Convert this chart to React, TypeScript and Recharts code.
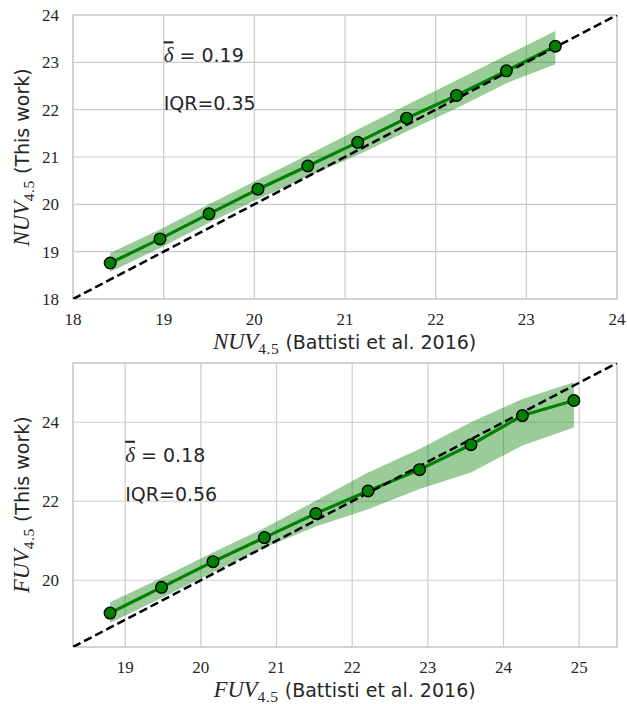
import React from 'react';
import { ComposedChart, XAxis, YAxis, CartesianGrid, Line, Area, Scatter, ReferenceArea } from 'recharts';

// ---- NUV panel (top) ----
const nuvBattisti = [18.41, 18.96, 19.5, 20.04, 20.59, 21.14, 21.68, 22.23, 22.78, 23.32];
const nuvThisWork = [18.76, 19.27, 19.8, 20.32, 20.81, 21.31, 21.82, 22.3, 22.82, 23.34];
const nuvLower = [18.57, 19.08, 19.61, 20.11, 20.59, 21.04, 21.54, 22.03, 22.56, 22.96];
const nuvUpper = [18.97, 19.47, 20.0, 20.52, 21.04, 21.58, 22.1, 22.62, 23.15, 23.66];
const nuvLimits = [18, 24];
const nuvXTicks = [18, 19, 20, 21, 22, 23, 24];
const nuvYTicks = [18, 19, 20, 21, 22, 23, 24];
const nuvDelta = '0.19';
const nuvIqr = 'IQR=0.35';

// ---- FUV panel (bottom) ----
const fuvBattisti = [18.8, 19.48, 20.16, 20.84, 21.52, 22.21, 22.89, 23.57, 24.25, 24.93];
const fuvThisWork = [19.17, 19.82, 20.47, 21.08, 21.69, 22.26, 22.8, 23.43, 24.17, 24.55];
const fuvLower = [18.92, 19.55, 20.2, 20.82, 21.36, 21.8, 22.31, 22.73, 23.41, 23.87];
const fuvUpper = [19.44, 20.06, 20.7, 21.32, 22.01, 22.73, 23.32, 24.0, 24.59, 25.01];
const fuvLimits = [18.31, 25.5];
const fuvXTicks = [19, 20, 21, 22, 23, 24, 25];
const fuvYTicks = [20, 22, 24];
const fuvDelta = '0.18';
const fuvIqr = 'IQR=0.56';

// annotation anchors (data coords)
const noteX = 19;
const noteDeltaY = 23;
const noteIqrY = 22;

const SERIF = '"Liberation Serif", "DejaVu Serif", serif';
const SANS = '"DejaVu Sans", "Liberation Sans", sans-serif';
const INK = '#262626';
const GREEN = '#008000';
const GRID = '#cccccc';

const Marker = (p: any) => (
  <circle cx={p.cx} cy={p.cy} r={5.8} fill={GREEN} stroke="#000" strokeWidth={1.4} />
);

const Note = (p: any) => {
  const { cx, cy, payload } = p;
  if (payload.kind === 'delta') {
    return (
      <text x={cx} y={cy} fill={INK} fontSize={19} fontFamily={SANS}>
        <tspan fontFamily={SERIF} fontStyle="italic" fontSize={21} textDecoration="overline">δ</tspan>
        <tspan> = {payload.text}</tspan>
      </text>
    );
  }
  return (
    <text x={cx} y={cy} fill={INK} fontSize={19} fontFamily={SANS}>
      {payload.text}
    </text>
  );
};

type PanelProps = {
  xs: number[]; ys: number[]; lo: number[]; hi: number[];
  lim: number[]; xTicks: number[]; yTicks: number[];
  delta: string; iqr: string;
  height: number; marginTop: number; xAxisHeight: number;
};

function Panel(props: PanelProps) {
  const { xs, ys, lo, hi, lim, xTicks, yTicks, delta, iqr, height, marginTop, xAxisHeight } = props;
  const table = xs.map((x, i) => ({ x, mean: ys[i], band: [lo[i], hi[i]] }));
  const diag = lim.map((v) => ({ x: v, y: v }));
  const notes = [
    { x: noteX, y: noteDeltaY, kind: 'delta', text: delta },
    { x: noteX, y: noteIqrY, kind: 'iqr', text: iqr },
  ];
  const tickStyle = { fill: INK, fontSize: 17, fontFamily: SERIF };
  return (
    <ComposedChart width={627} height={height} data={table}
      margin={{ top: marginTop, right: 10, bottom: 0, left: 0 }}>
      <CartesianGrid stroke={GRID} strokeWidth={1.2} />
      <XAxis type="number" dataKey="x" domain={lim} ticks={xTicks} allowDataOverflow interval={0}
        tickLine={false} axisLine={false} tickSize={0} tickMargin={14} height={xAxisHeight} tick={tickStyle} />
      <YAxis type="number" domain={lim} ticks={yTicks} allowDataOverflow interval={0}
        tickLine={false} axisLine={false} tickSize={0} tickMargin={14} width={73} tick={tickStyle} />
      <ReferenceArea x1={lim[0]} x2={lim[1]} y1={lim[0]} y2={lim[1]} fill="none" fillOpacity={0}
        stroke={GRID} strokeWidth={1.3} strokeOpacity={1} />
      <Area dataKey="band" type="linear" stroke="none" fill={GREEN} fillOpacity={0.4} isAnimationActive={false} />
      <Line dataKey="mean" type="linear" stroke={GREEN} strokeWidth={3.2} dot={false} activeDot={false} isAnimationActive={false} />
      <Line data={diag} dataKey="y" type="linear" stroke="#000" strokeWidth={2.5} strokeDasharray="8.5 4"
        dot={false} activeDot={false} isAnimationActive={false} />
      <Scatter data={table} dataKey="mean" shape={Marker} isAnimationActive={false} />
      <Scatter data={notes} dataKey="y" shape={Note} isAnimationActive={false} />
    </ComposedChart>
  );
}

function AxisTitle({ x, y, sym, tail, vertical }: { x: number; y: number; sym: string; tail: string; vertical?: boolean }) {
  return (
    <text x={0} y={0} transform={vertical ? `translate(${x},${y}) rotate(-90)` : `translate(${x},${y})`}
      textAnchor="middle" fill={INK} fontFamily={SANS} fontSize={19}>
      <tspan fontFamily={SERIF} fontStyle="italic" fontSize={22.5}>{sym}</tspan>
      <tspan fontFamily={SERIF} fontSize={15.5} dy={4.5} letterSpacing={0.6}>4.5</tspan>
      <tspan dy={-4.5}>{' ' + tail}</tspan>
    </text>
  );
}

export default function App() {
  return (
    <div style={{ position: 'absolute', left: 0, top: 0, width: 627, height: 704, background: '#fff' }}>
      <div style={{ position: 'absolute', left: 0, top: 0 }}>
        <Panel xs={nuvBattisti} ys={nuvThisWork} lo={nuvLower} hi={nuvUpper} lim={nuvLimits}
          xTicks={nuvXTicks} yTicks={nuvYTicks} delta={nuvDelta} iqr={nuvIqr}
          height={340} marginTop={15} xAxisHeight={41} />
      </div>
      <div style={{ position: 'absolute', left: 0, top: 340 }}>
        <Panel xs={fuvBattisti} ys={fuvThisWork} lo={fuvLower} hi={fuvUpper} lim={fuvLimits}
          xTicks={fuvXTicks} yTicks={fuvYTicks} delta={fuvDelta} iqr={fuvIqr}
          height={364} marginTop={23} xAxisHeight={57} />
      </div>
      <svg width={627} height={704} style={{ position: 'absolute', left: 0, top: 0, pointerEvents: 'none' }}>
        <AxisTitle x={344.7} y={349} sym="NUV" tail="(Battisti et al. 2016)" />
        <AxisTitle x={29} y={157.3} sym="NUV" tail="(This work)" vertical />
        <AxisTitle x={344.7} y={697} sym="FUV" tail="(Battisti et al. 2016)" />
        <AxisTitle x={29} y={504.7} sym="FUV" tail="(This work)" vertical />
      </svg>
    </div>
  );
}
